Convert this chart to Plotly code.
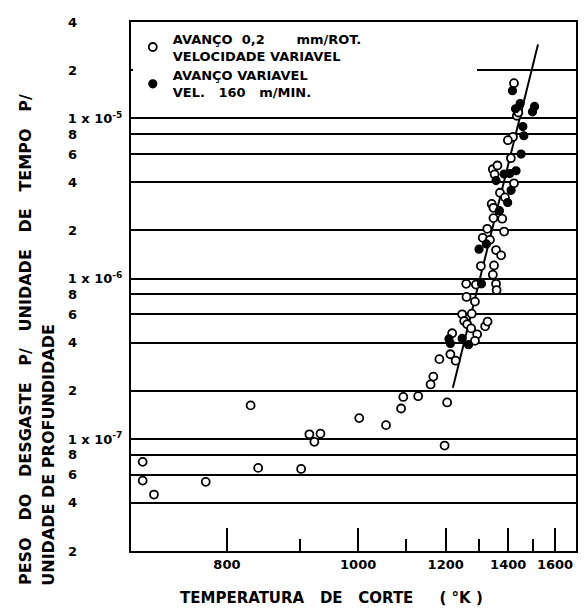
import numpy as np
import plotly.graph_objects as go

# ---- data (temperature in K, wear rate per unit time per unit depth) ----
# open circles: avanço 0,2 mm/rot, velocidade variável
temp_open = [709, 709, 720, 775, 830, 840, 902, 915, 923, 933,
             1002, 1056, 1089, 1094, 1129, 1160, 1167, 1183, 1204, 1197,
             1213, 1228, 1218, 1247, 1276, 1253, 1262, 1274, 1293, 1286,
             1319, 1327, 1286, 1260, 1259, 1289, 1356, 1358, 1345, 1305,
             1349, 1356, 1374, 1311, 1335, 1326, 1385, 1347, 1378, 1341,
             1347, 1370, 1388, 1345, 1361, 1351, 1422, 1410, 1418, 1399,
             1433, 1439, 1422]
wear_open = [7.2e-8, 5.5e-8, 4.5e-8, 5.4e-8, 1.62e-7, 6.6e-8, 6.5e-8, 1.07e-7, 9.6e-8, 1.08e-7,
             1.35e-7, 1.22e-7, 1.55e-7, 1.83e-7, 1.85e-7, 2.19e-7, 2.45e-7, 3.15e-7, 1.69e-7, 9.1e-8,
             3.38e-7, 3.08e-7, 4.57e-7, 6.0e-7, 6.05e-7, 5.45e-7, 5.2e-7, 4.9e-7, 4.5e-7, 4.1e-7,
             5.05e-7, 5.4e-7, 7.2e-7, 7.7e-7, 9.3e-7, 9.2e-7, 9.3e-7, 8.5e-7, 1.06e-6, 1.2e-6,
             1.21e-6, 1.51e-6, 1.4e-6, 1.8e-6, 1.75e-6, 2.05e-6, 1.97e-6, 2.39e-6, 2.37e-6, 2.93e-6,
             2.77e-6, 3.44e-6, 3.22e-6, 4.82e-6, 5.09e-6, 4.48e-6, 3.94e-6, 5.65e-6, 7.67e-6, 7.32e-6,
             1.04e-5, 1.09e-5, 1.66e-5]

# filled circles: avanço variável, vel. 160 m/min
temp_filled = [1416, 1446, 1428, 1506, 1497, 1457, 1461, 1450, 1385, 1406,
               1430, 1356, 1411, 1398, 1368, 1323, 1299, 1307, 1209, 1213,
               1247, 1266]
wear_filled = [1.49e-5, 1.24e-5, 1.15e-5, 1.19e-5, 1.10e-5, 8.9e-6, 7.8e-6, 6.0e-6, 4.5e-6, 4.53e-6,
               4.72e-6, 4.1e-6, 3.56e-6, 2.99e-6, 2.66e-6, 1.65e-6, 1.53e-6, 9.3e-7, 4.21e-7, 3.95e-7,
               4.24e-7, 3.88e-7]

# fitted line
temp_fit = [1220, 1521]
wear_fit = [2.09e-7, 2.9e-5]

# axes
temp_range = [698, 1709]
x_major = [800, 1000, 1200, 1400, 1600]
x_major_text = ["800", "1000", "1200", "1400", "1600"]
x_minor = [900, 1100, 1300, 1500]

y_tick_vals = [2e-8, 4e-8, 6e-8, 8e-8, 1e-7, 2e-7, 4e-7, 6e-7, 8e-7,
               1e-6, 2e-6, 4e-6, 6e-6, 8e-6, 1e-5, 2e-5, 4e-5]
y_tick_text = ["2", "4", "6", "8", "1 x 10<sup>-7</sup>", "2", "4", "6", "8",
               "1 x 10<sup>-6</sup>", "2", "4", "6", "8", "1 x 10<sup>-5</sup>", "2", "4"]

NB = "\u00a0"
legend_open = ("AVANÇO" + NB * 2 + "0,2" + NB * 7 + "mm/ROT.<br>VELOCIDADE VARIAVEL" + NB * 29)
legend_filled = "AVANÇO VARIAVEL<br>VEL." + NB * 3 + "160" + NB * 3 + "m/MIN."
x_title = "TEMPERATURA" + NB * 3 + "DE" + NB * 3 + "CORTE" + NB * 5 + "( °K )"
y_title_1 = (NB * 3).join(["PESO", "DO", "DESGASTE", "P/", "UNIDADE", "DE", "TEMPO", "P/"])
y_title_2 = (NB * 1).join(["UNIDADE", "DE", "PROFUNDIDADE"])


def inv(t):
    return 1000.0 / np.asarray(t, dtype=float)


FS = "\u2007"
y_text_padded = [t if "x" in t else t + FS * 5 for t in y_tick_text]

FONT = "DejaVu Sans"
fig = go.Figure()

fig.add_trace(go.Scatter(
    x=inv(temp_fit), y=wear_fit, mode="lines",
    line=dict(color="black", width=2), showlegend=False, hoverinfo="skip"))

fig.add_trace(go.Scatter(
    x=inv(temp_open), y=wear_open, mode="markers", name=legend_open,
    marker=dict(symbol="circle", size=8, color="white",
                line=dict(color="black", width=1.8))))

fig.add_trace(go.Scatter(
    x=inv(temp_filled), y=wear_filled, mode="markers", name=legend_filled,
    marker=dict(symbol="circle", size=8, color="black",
                line=dict(color="black", width=1.2))))

# the page body has an 8px margin: figure is sized so the plot lands where the reference has it
fig.update_layout(
    width=578, height=604,
    margin=dict(l=123, r=10, t=7, b=61),
    paper_bgcolor="white", plot_bgcolor="white",
    font=dict(family=FONT, color="black", size=13),
    showlegend=True,
    legend=dict(x=0.004, y=0.997, xanchor="left", yanchor="top",
                bgcolor="white", borderwidth=0,
                font=dict(family=FONT, size=13, weight="bold"),
                tracegroupgap=2, itemwidth=30),
    xaxis=dict(
        range=list(inv(temp_range)),
        tickmode="array", tickvals=list(inv(x_major)), ticktext=x_major_text,
        ticks="inside", ticklen=23, tickwidth=2, tickcolor="black",
        minor=dict(tickmode="array", tickvals=list(inv(x_minor)), ticks="inside",
                   ticklen=12, tickwidth=2, tickcolor="black", showgrid=False),
        showgrid=False, zeroline=False,
        showline=True, linecolor="black", linewidth=2, mirror=True,
        tickfont=dict(family=FONT, size=13, weight="bold"),
    ),
    yaxis=dict(
        type="log",
        range=[np.log10(2e-8), np.log10(4e-5)],
        tickmode="array", tickvals=y_tick_vals, ticktext=y_text_padded,
        ticks="", showgrid=True, gridcolor="black", gridwidth=1.5,
        zeroline=False,
        showline=True, linecolor="black", linewidth=2, mirror=True,
        tickfont=dict(family=FONT, size=13, weight="bold"),
        ticklabelstandoff=4,
    ),
    annotations=[
        dict(text=x_title, xref="paper", yref="paper", x=0.105, y=-0.088,
             xanchor="left", yanchor="middle", showarrow=False,
             font=dict(family=FONT, size=15, weight="bold")),
        dict(text=y_title_1, xref="paper", yref="paper", x=-0.238, y=-0.069,
             xanchor="center", yanchor="bottom", textangle=-90, showarrow=False,
             font=dict(family=FONT, size=16, weight="bold")),
        dict(text=y_title_2, xref="paper", yref="paper", x=-0.186, y=-0.069,
             xanchor="center", yanchor="bottom", textangle=-90, showarrow=False,
             font=dict(family=FONT, size=16, weight="bold")),
    ],
)

fig.write_html("out.html")
